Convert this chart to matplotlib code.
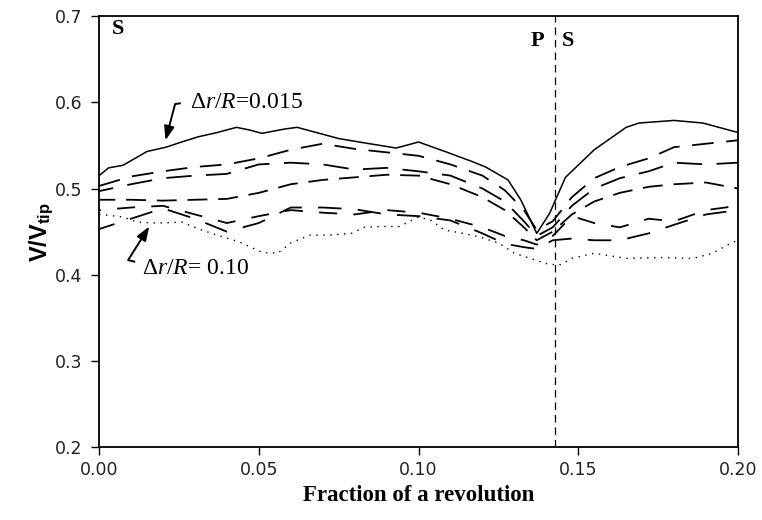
import numpy as np
import matplotlib
matplotlib.use("Agg")
import matplotlib.pyplot as plt

plt.rcParams['mathtext.fontset'] = 'custom'
plt.rcParams['mathtext.rm'] = 'Liberation Serif'
plt.rcParams['mathtext.it'] = 'Liberation Serif:italic'
plt.rcParams['mathtext.bf'] = 'Liberation Sans:bold'

# solid curve, dr/R = 0.015
x_solid = [0.000, 0.003, 0.0075, 0.015, 0.021, 0.025, 0.031, 0.037, 0.043, 0.047, 0.051,
           0.058, 0.062, 0.068, 0.075, 0.083, 0.093, 0.100, 0.109, 0.117, 0.121, 0.128,
           0.132, 0.137, 0.141, 0.146, 0.155, 0.165, 0.169, 0.180, 0.189, 0.200]
y_solid = [0.515, 0.524, 0.527, 0.543, 0.548, 0.553, 0.560, 0.565, 0.571, 0.568, 0.564,
           0.569, 0.571, 0.565, 0.558, 0.553, 0.547, 0.554, 0.542, 0.531, 0.525, 0.510,
           0.487, 0.448, 0.471, 0.513, 0.545, 0.571, 0.576, 0.579, 0.576, 0.565]

# dashed curves (intermediate radial positions)
x_d = [0.000, 0.010, 0.020, 0.030, 0.040, 0.050, 0.060, 0.070, 0.080, 0.090, 0.100, 0.110,
       0.120, 0.127, 0.133, 0.137, 0.142, 0.148, 0.155, 0.163, 0.172, 0.180, 0.190, 0.200]
y_d1 = [0.503, 0.514, 0.520, 0.525, 0.528, 0.535, 0.545, 0.552, 0.546, 0.542, 0.538, 0.528,
        0.515, 0.498, 0.475, 0.452, 0.462, 0.490, 0.512, 0.525, 0.535, 0.548, 0.552, 0.556]
y_d2 = [0.497, 0.505, 0.512, 0.515, 0.517, 0.528, 0.530, 0.528, 0.522, 0.524, 0.520, 0.515,
        0.500, 0.485, 0.462, 0.445, 0.455, 0.480, 0.500, 0.512, 0.520, 0.530, 0.528, 0.530]
y_d3 = [0.487, 0.487, 0.486, 0.487, 0.488, 0.495, 0.505, 0.510, 0.513, 0.516, 0.515, 0.505,
        0.490, 0.475, 0.455, 0.440, 0.450, 0.470, 0.485, 0.495, 0.502, 0.505, 0.507, 0.500]
y_d4 = [0.475, 0.478, 0.480, 0.470, 0.460, 0.468, 0.475, 0.472, 0.470, 0.475, 0.472, 0.465,
        0.455, 0.445, 0.440, 0.435, 0.445, 0.468, 0.460, 0.455, 0.465, 0.462, 0.475, 0.480]
y_d5 = [0.453, 0.465, 0.477, 0.465, 0.450, 0.460, 0.478, 0.478, 0.476, 0.470, 0.468, 0.463,
        0.448, 0.436, 0.432, 0.430, 0.440, 0.442, 0.440, 0.440, 0.448, 0.458, 0.470, 0.475]

# dotted curve, dr/R = 0.10
x_dot = [0.000, 0.003, 0.0075, 0.012, 0.018, 0.026, 0.032, 0.037, 0.044, 0.051, 0.056,
         0.060, 0.066, 0.072, 0.079, 0.083, 0.088, 0.094, 0.100, 0.104, 0.108, 0.114,
         0.119, 0.125, 0.130, 0.135, 0.140, 0.144, 0.148, 0.155, 0.165, 0.176, 0.186,
         0.192, 0.198, 0.200]
y_dot = [0.470, 0.469, 0.467, 0.461, 0.460, 0.461, 0.452, 0.446, 0.438, 0.426, 0.425,
         0.437, 0.446, 0.446, 0.448, 0.455, 0.456, 0.456, 0.467, 0.463, 0.452, 0.448,
         0.444, 0.437, 0.425, 0.419, 0.413, 0.411, 0.419, 0.425, 0.419, 0.420, 0.419,
         0.425, 0.437, 0.440]

x_ps = 1.0 / 7.0

fig = plt.figure(figsize=(7.62, 5.20), dpi=100)
ax = fig.add_axes([0.130, 0.140, 0.8385, 0.829])

ax.plot(x_solid, y_solid, color='black', lw=1.1)
ax.plot(x_d, y_d1, color='black', lw=1.3, linestyle=(0, (12, 7)))
ax.plot(x_d, y_d2, color='black', lw=1.3, linestyle=(6, (14, 8)))
ax.plot(x_d, y_d3, color='black', lw=1.3, linestyle=(2, (11, 6)))
ax.plot(x_d, y_d4, color='black', lw=1.3, linestyle=(9, (10, 9)))
ax.plot(x_d, y_d5, color='black', lw=1.3, linestyle=(4, (13, 9)))
ax.plot(x_dot, y_dot, color='black', lw=1.0, linestyle=(0, (1, 4)))
ax.axvline(x_ps, color='black', lw=0.9, linestyle=(0, (6, 4)))

ax.set_xlim(0, 0.2)
ax.set_ylim(0.2, 0.7)
ax.set_xticks([0.0, 0.05, 0.10, 0.15, 0.20])
ax.set_xticklabels(['0.00', '0.05', '0.10', '0.15', '0.20'])
ax.set_yticks([0.2, 0.3, 0.4, 0.5, 0.6, 0.7])
ax.set_yticklabels(['0.2', '0.3', '0.4', '0.5', '0.6', '0.7'])
ax.tick_params(direction='out', length=6, width=1, labelsize=12.5, pad=4)
ax.tick_params(axis='y', pad=6)
for lab in ax.get_xticklabels() + ax.get_yticklabels():
    lab.set_family('DejaVu Sans')
    lab.set_color('#222222')
for sp in ax.spines.values():
    sp.set_linewidth(1.3)

ax.set_xlabel('Fraction of a revolution', family='Liberation Serif', fontweight='bold',
              fontsize=16.5)
ax.xaxis.set_label_coords(0.5, -0.088)
ax.set_ylabel(r'$\mathbf{V/V_{tip}}$', fontsize=17)
ax.yaxis.set_label_coords(-0.068, 0.5)

ax.text(0.004, 0.697, 'S', family='Liberation Serif', fontweight='bold', fontsize=16, va='top')
ax.text(0.1395, 0.683, 'P', family='Liberation Serif', fontweight='bold', fontsize=16,
        va='top', ha='right')
ax.text(0.1450, 0.683, 'S', family='Liberation Serif', fontweight='bold', fontsize=16, va='top')

# upper annotation with hooked arrow
ax.text(0.0285, 0.600, r'$\Delta r/R$=0.015', family='Liberation Serif', fontsize=17, va='center')
ax.plot([0.0238, 0.0256], [0.598, 0.599], color='black', lw=1.4, solid_capstyle='butt')
ax.annotate('', xy=(0.0208, 0.556), xytext=(0.0238, 0.598),
            arrowprops=dict(arrowstyle='-|>,head_length=0.6,head_width=0.22', color='black',
                            lw=1.4, shrinkA=0, shrinkB=0, mutation_scale=14))
# lower annotation with hooked arrow
ax.text(0.0135, 0.407, r'$\Delta r/R$= 0.10', family='Liberation Serif', fontsize=17, va='center')
ax.plot([0.0091, 0.0113], [0.417, 0.415], color='black', lw=1.4, solid_capstyle='butt')
ax.annotate('', xy=(0.0157, 0.456), xytext=(0.0091, 0.417),
            arrowprops=dict(arrowstyle='-|>,head_length=0.6,head_width=0.22', color='black',
                            lw=1.4, shrinkA=0, shrinkB=0, mutation_scale=14))

plt.savefig('out.png', dpi=100)
